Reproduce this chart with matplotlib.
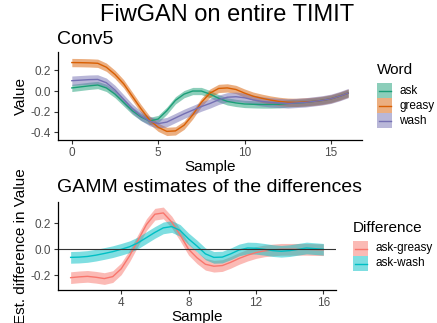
import matplotlib.pyplot as plt
import numpy as np
from matplotlib.patches import Rectangle
from matplotlib.lines import Line2D

# ---- data ----
words = ["ask", "greasy", "wash"]
word_colors = ["#1B9E77", "#D95F02", "#7570B3"]
sample_top = np.arange(0, 16.5, 0.5)

ask = [0.03, 0.04, 0.05, 0.058, 0.03, -0.03, -0.11, -0.19, -0.25, -0.29, -0.27,
       -0.19, -0.09, -0.03, 0.0, 0.0, -0.03, -0.07, -0.10, -0.115, -0.125, -0.128,
       -0.13, -0.13, -0.128, -0.12, -0.115, -0.11, -0.10, -0.09, -0.075, -0.05, -0.02]
greasy = [0.275, 0.274, 0.272, 0.268, 0.23, 0.16, 0.07, -0.05, -0.17, -0.28, -0.35,
          -0.39, -0.385, -0.33, -0.23, -0.11, -0.02, 0.025, 0.03, 0.015, -0.02, -0.05,
          -0.07, -0.087, -0.10, -0.108, -0.11, -0.105, -0.10, -0.09, -0.075, -0.05, -0.02]
wash = [0.10, 0.105, 0.11, 0.112, 0.08, 0.01, -0.08, -0.17, -0.24, -0.29, -0.315,
        -0.30, -0.26, -0.22, -0.185, -0.15, -0.12, -0.085, -0.06, -0.055, -0.065, -0.085,
        -0.10, -0.11, -0.115, -0.12, -0.115, -0.11, -0.10, -0.09, -0.075, -0.05, -0.02]
word_se = [0.035, 0.04, 0.045]

diffs = ["ask-greasy", "ask-wash"]
diff_colors = ["#F8766D", "#00BFC4"]
sample_bot = np.arange(1, 16.5, 0.5)

ask_greasy = [-0.218, -0.212, -0.208, -0.215, -0.225, -0.21, -0.15, -0.05, 0.07, 0.19,
              0.27, 0.28, 0.21, 0.11, 0.0, -0.065, -0.115, -0.13, -0.125, -0.10, -0.07,
              -0.045, -0.025, -0.012, -0.005, 0.0, 0.0, 0.0, 0.0, -0.002, -0.003]
ask_wash = [-0.062, -0.06, -0.055, -0.045, -0.032, -0.018, 0.0, 0.02, 0.05, 0.09,
            0.13, 0.165, 0.175, 0.145, 0.08, 0.025, -0.035, -0.062, -0.06, -0.035, -0.005,
            0.01, 0.008, 0.0, -0.01, -0.015, -0.01, 0.0, 0.01, 0.005, 0.0]
diff_se = [0.045, 0.045]

W, H = 437, 323
fig = plt.figure(figsize=(W / 100, H / 100), dpi=100)
plt.rcParams['font.family'] = ['Liberation Sans', 'DejaVu Sans']


def px_axes(l, t, r, b):
    return fig.add_axes([l / W, 1 - b / H, (r - l) / W, (b - t) / H])


def style(ax):
    for s in ["top", "right"]:
        ax.spines[s].set_visible(False)
    for s in ["left", "bottom"]:
        ax.spines[s].set_linewidth(0.9)
        ax.spines[s].set_color("black")
    ax.tick_params(length=3, width=0.8, color="#333333", labelsize=8.5,
                   labelcolor="#4D4D4D", pad=2)


def legend(title, names, colors, x, y_title, y_top, kw=15, kh=15, lab_x=None):
    fig.text(x / W, 1 - y_title / H, title, fontsize=11, va="center", ha="left")
    for i, (n, c) in enumerate(zip(names, colors)):
        yt = y_top + i * kh
        fig.add_artist(Rectangle((x / W, 1 - (yt + kh) / H), kw / W, kh / H,
                                 transform=fig.transFigure, facecolor=c, alpha=0.5,
                                 edgecolor="none"))
        yc = 1 - (yt + kh / 2) / H
        fig.add_artist(Line2D([(x + 1.5) / W, (x + kw - 1.5) / W], [yc, yc],
                              transform=fig.transFigure, color=c, lw=1))
        fig.text(lab_x / W, yc, n, fontsize=8.5, va="center", ha="left")


# ---- top panel ----
ax1 = px_axes(58, 52, 362, 140)
for vals, se, c in zip([ask, greasy, wash], word_se, word_colors):
    v = np.array(vals)
    ax1.fill_between(sample_top, v - se, v + se, color=c, alpha=0.5, lw=0)
    ax1.plot(sample_top, v, color=c, lw=1)
ax1.set_xlim(-0.8, 16.8)
ax1.set_ylim(-0.473, 0.377)
ax1.set_xticks([0, 5, 10, 15])
ax1.set_yticks([-0.4, -0.2, 0.0, 0.2])
ax1.set_yticklabels(["-0.4", "-0.2", "0.0", "0.2"])
style(ax1)
ax1.set_xlabel("Sample", fontsize=11, labelpad=1)
ax1.set_ylabel("Value", fontsize=11, labelpad=2)

# ---- bottom panel ----
ax2 = px_axes(58, 202, 336, 290)
for vals, se, c in zip([ask_greasy, ask_wash], diff_se, diff_colors):
    v = np.array(vals)
    ax2.fill_between(sample_bot, v - se, v + se, color=c, alpha=0.5, lw=0)
    ax2.plot(sample_bot, v, color=c, lw=1)
ax2.axhline(0, color="#333333", lw=0.8)
ax2.set_xlim(0.25, 16.75)
ax2.set_ylim(-0.313, 0.364)
ax2.set_xticks([4, 8, 12, 16])
ax2.set_yticks([-0.2, 0.0, 0.2])
ax2.set_yticklabels(["-0.2", "0.0", "0.2"])
style(ax2)
ax2.set_xlabel("Sample", fontsize=11, labelpad=1)
ax2.set_ylabel("Est. difference in Value", fontsize=11, labelpad=2)

# ---- titles ----
fig.text(227 / W, 1 - 15 / H, "FiwGAN on entire TIMIT", fontsize=17, ha="center", va="center")
fig.text(57 / W, 1 - 40 / H, "Conv5", fontsize=14, ha="left", va="center")
fig.text(57 / W, 1 - 188 / H, "GAMM estimates of the differences", fontsize=14,
         ha="left", va="center")

legend("Word", words, word_colors, 377, 70, 83, lab_x=399)
legend("Difference", diffs, diff_colors, 353, 228, 241, lab_x=375)

fig.savefig("out.png", dpi=100)
